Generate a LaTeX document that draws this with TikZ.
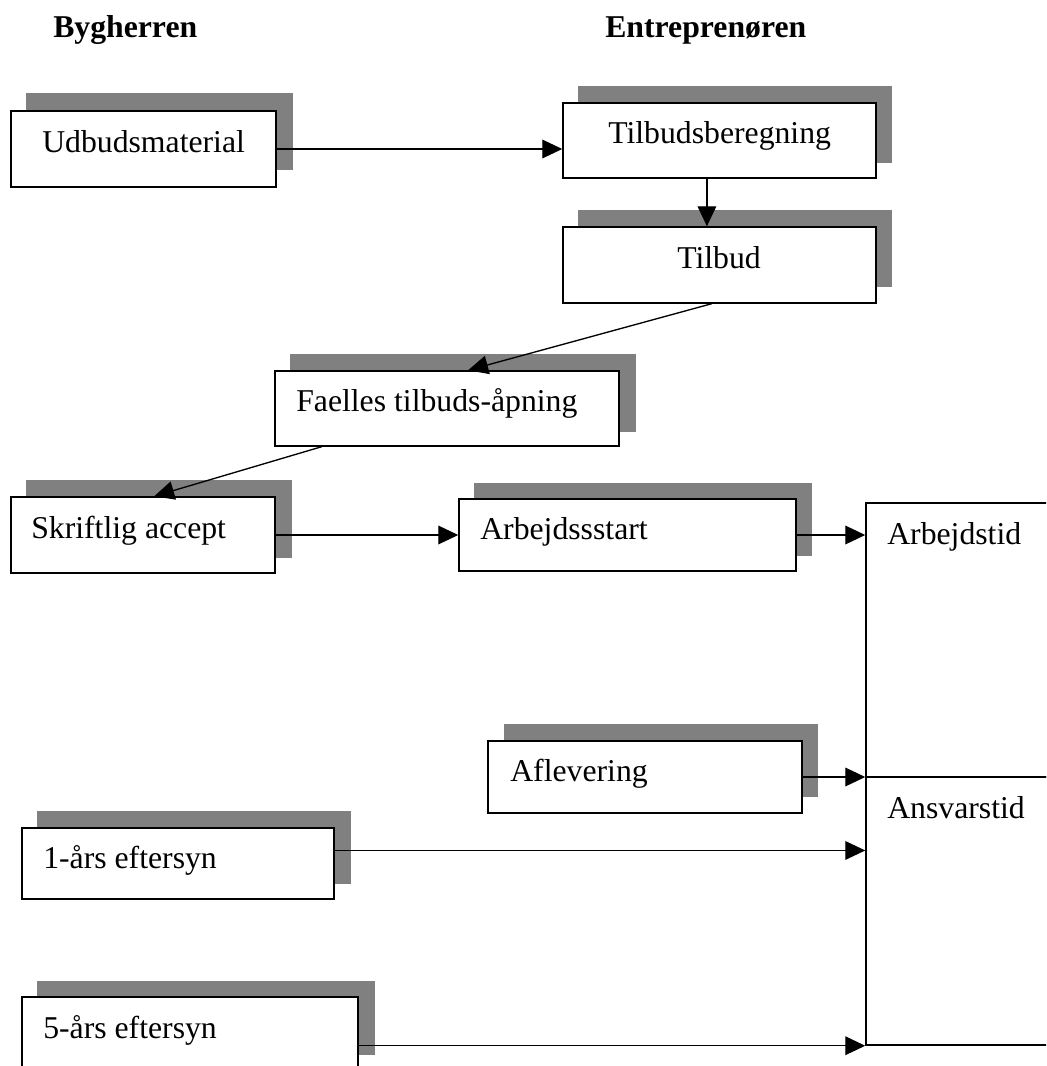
\documentclass[tikz,border=0pt]{standalone}
\usepackage{fontspec}
\setmainfont{Liberation Serif}
\usetikzlibrary{arrows.meta,calc,fit}
\definecolor{shadowgray}{RGB}{128,128,128}
\begin{document}
\begin{tikzpicture}[x=0.75pt,y=-0.75pt,
  box/.style={draw=black, line width=1.1pt, fill=white, inner sep=0pt},
  shadebox/.style={fill=shadowgray},
  lbl/.style={anchor=base west, inner sep=0pt, font=\fontsize{23.8}{28}\selectfont},
  hdr/.style={anchor=base west, inner sep=0pt, font=\fontsize{23.8}{28}\selectfont\bfseries},
  arr/.style={line width=1pt, -{Triangle[length=15pt,width=14pt]}}]
\clip (0,0) rectangle (1046,1066);
\fill[white] (0,0) rectangle (1046,1066);

% headers
\node[hdr] (h1) at (53,38) {Bygherren};
\node[hdr] (h2) at (605,38) {Entreprenøren};

% shadows
\fill[shadebox] (26,93) rectangle (293,170);
\fill[shadebox] (578,86) rectangle (892,163);
\fill[shadebox] (578,210) rectangle (892,287);
\fill[shadebox] (290,354) rectangle (636,432);
\fill[shadebox] (26,480) rectangle (292,558);
\fill[shadebox] (474,483) rectangle (812,556);
\fill[shadebox] (504,724) rectangle (818,797);
\fill[shadebox] (37,811) rectangle (351,884);
\fill[shadebox] (37,981) rectangle (375,1055);

% boxes
\node[box, fit={(11,111)(276,187)}] (b1) {};
\node[box, fit={(563,103)(876,178)}] (b2) {};
\node[box, fit={(563,227)(876,303)}] (b3) {};
\node[box, fit={(275,371)(619,446)}] (b4) {};
\node[box, fit={(11,497)(275,573)}] (b5) {};
\node[box, fit={(459,499)(796,571)}] (b6) {};
\node[box, fit={(866,503)(1052,777)}] (b7) {};
\node[box, fit={(866,777)(1052,1045)}] (b8) {};
\node[box, fit={(488,741)(802,813)}] (b9) {};
\node[box, fit={(22,828)(334,899)}] (b10) {};
\node[box, fit={(22,997)(358,1080)}] (b11) {};

% labels
\node[lbl] (t1) at (42,153) {Udbudsmaterial};
\node[lbl] (t2) at (608,144) {Tilbudsberegning};
\node[lbl] (t3) at (677,268) {Tilbud};
\node[lbl] (t4) at (296,411) {Faelles tilbuds-åpning};
\node[lbl] (t5) at (31,538) {Skriftlig accept};
\node[lbl] (t6) at (480,539) {Arbejdssstart};
\node[lbl] (t7) at (887,544) {Arbejdstid};
\node[lbl] (t8) at (887,818) {Ansvarstid};
\node[lbl] (t9) at (510,781) {Aflevering};
\node[lbl] (t10) at (43,868) {1-års eftersyn};
\node[lbl] (t11) at (43,1038) {5-års eftersyn};

% connector anchors
\coordinate (c2s) at ($(b2.south west)!0.46!(b2.south east)$);
\coordinate (c3s) at ($(b3.south west)!0.475!(b3.south east)$);
\coordinate (c4n) at ($(b4.north west)!0.561!(b4.north east)$);
\coordinate (c4s) at ($(b4.south west)!0.137!(b4.south east)$);
\coordinate (c5n) at ($(b5.north west)!0.542!(b5.north east)$);
\coordinate (c10e) at ($(b10.north east)!0.32!(b10.south east)$);
\coordinate (c11e) at (b11.east |- b8.south west);

% connectors
\draw[arr] (b1.east) -- (b2.west |- b1.east);
\draw[arr] (c2s) -- (c2s |- b3.north);
\draw[arr] (c3s) -- (c4n);
\draw[arr] (c4s) -- (c5n);
\draw[arr] (b5.east) -- (b6.west |- b5.east);
\draw[arr] (b6.east) -- (b7.west |- b6.east);
\draw[arr] (b9.east) -- (b8.west |- b9.east);
\draw[arr] (c10e) -- (b8.west |- c10e);
\draw[arr] (c11e) -- (b8.south west);
\end{tikzpicture}
\end{document}
